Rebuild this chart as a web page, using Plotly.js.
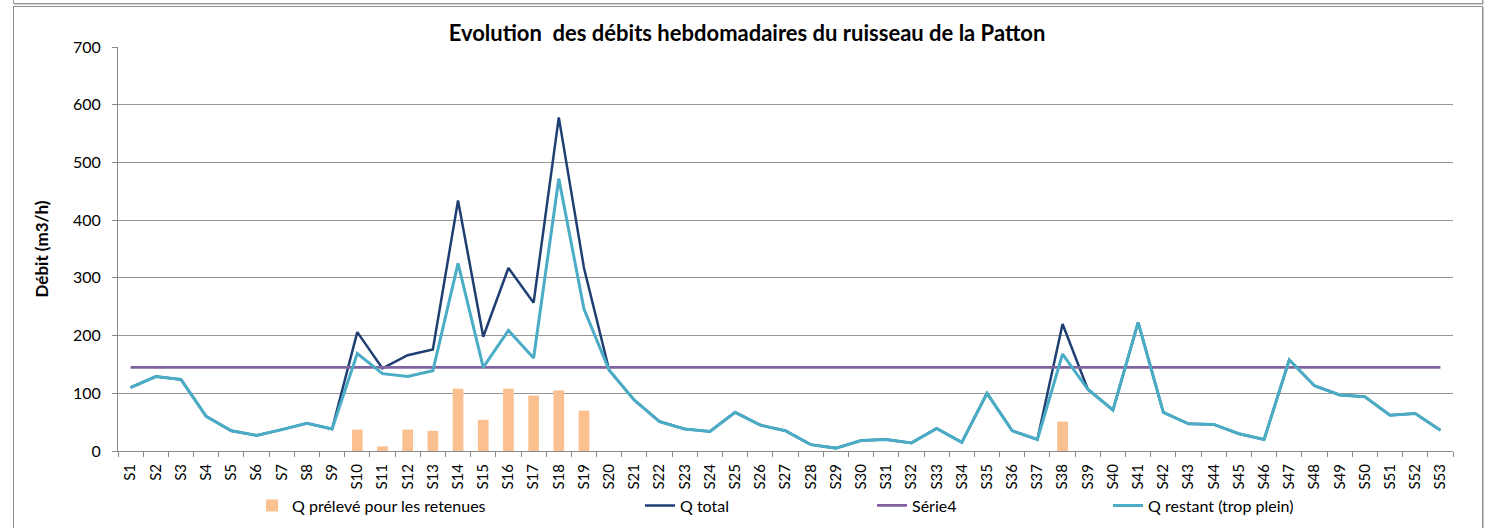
<!DOCTYPE html>
<html>
<head>
<meta charset="utf-8">
<script src="https://cdn.plot.ly/plotly-3.0.1.min.js"></script>
<style>
  html, body { margin: 0; padding: 0; background: #ffffff; overflow: hidden; }
  #wrap { position: relative; width: 1494px; height: 528px; }
  #topbox { position: absolute; left: 13px; top: -10px; width: 1468px; height: 12px; border: 1px solid #9a9a9a; box-shadow: 1px 1px 0 #d0d0d0; }
  #chartbox { position: absolute; left: 13px; top: 6px; width: 1468px; height: 600px; border: 1px solid #8e8e8e; box-shadow: 1px 1px 0 #c8c8c8; }
  #chart { position: absolute; left: 0; top: 0; width: 1494px; height: 528px; }
</style>
</head>
<body>
<div id="wrap">
  <div id="topbox"></div>
  <div id="chartbox"></div>
  <div id="chart"></div>
</div>
<script>
// ---- data ----
const weeks = ["S1","S2","S3","S4","S5","S6","S7","S8","S9","S10",
  "S11","S12","S13","S14","S15","S16","S17","S18","S19","S20",
  "S21","S22","S23","S24","S25","S26","S27","S28","S29","S30",
  "S31","S32","S33","S34","S35","S36","S37","S38","S39","S40",
  "S41","S42","S43","S44","S45","S46","S47","S48","S49","S50",
  "S51","S52","S53"];

const qPreleve = [null,null,null,null,null,null,null,null,null,37,
  8,37,35,108,54,108,96,105,70,null,
  null,null,null,null,null,null,null,null,null,null,
  null,null,null,null,null,null,null,51,null,null,
  null,null,null,null,null,null,null,null,null,null,
  null,null,null];

const qTotal = [110,129,124,60,35,27,37,48,38,206,
  143,166,176,434,198,317,257,578,317,140,
  88,51,38,34,67,45,35,11,5,18,
  20,14,39,15,100,35,20,220,107,71,
  223,67,47,46,30,20,158,113,97,94,
  62,65,36];

const serie4 = [145,145,145,145,145,145,145,145,145,145,
  145,145,145,145,145,145,145,145,145,145,
  145,145,145,145,145,145,145,145,145,145,
  145,145,145,145,145,145,145,145,145,145,
  145,145,145,145,145,145,145,145,145,145,
  145,145,145];

const qRestant = [110,129,124,60,35,27,37,48,38,169,
  134,129,139,325,145,209,161,472,246,140,
  88,51,38,34,67,45,35,11,5,18,
  20,14,39,15,100,35,20,168,107,71,
  223,67,47,46,30,20,158,113,97,94,
  62,65,36];

const FONT = "Lato, 'Open Sans', sans-serif";

const traces = [
  { type: "bar", x: weeks, y: qPreleve, name: "Q prélevé pour les retenues",
    marker: { color: "#FAC090" }, legend: "legend", hoverinfo: "x+y" },
  { type: "scatter", mode: "lines", x: weeks, y: qTotal, name: "Q total",
    line: { color: "#1F3F73", width: 2.5 }, legend: "legend2" },
  { type: "scatter", mode: "lines", x: weeks, y: serie4, name: "Série4",
    line: { color: "#7F62A0", width: 2.75 }, legend: "legend3" },
  { type: "scatter", mode: "lines", x: weeks, y: qRestant, name: "Q restant (trop plein)",
    line: { color: "#4BACC6", width: 3 }, legend: "legend4" }
];

function leg(x) {
  return { orientation: "h", x: x, xanchor: "left", y: -0.135, yanchor: "middle",
    bgcolor: "rgba(0,0,0,0)", borderwidth: 0,
    font: { family: FONT, size: 16, color: "#000000" } };
}

const layout = {
  width: 1494, height: 528,
  paper_bgcolor: "rgba(0,0,0,0)",
  plot_bgcolor: "rgba(0,0,0,0)",
  margin: { l: 118, r: 41, t: 47, b: 77, autoexpand: false },
  title: { text: "<b>Evolution  des débits hebdomadaires du ruisseau de la Patton</b>",
    font: { family: FONT, size: 22, color: "#000000" },
    x: 0.5, xanchor: "center", y: 0.937, yanchor: "middle" },
  bargap: 0.575,
  showlegend: true,
  xaxis: {
    type: "category", categoryorder: "array", categoryarray: weeks,
    range: [-0.5, 52.5], automargin: false,
    showgrid: false, zeroline: false,
    showline: true, linecolor: "#8a8a8a", linewidth: 1,
    ticks: "outside", tickson: "boundaries", ticklen: 5, tickcolor: "#8a8a8a",
    tickangle: -90, ticklabelstandoff: 6,
    tickfont: { family: FONT, size: 15, color: "#000000" }
  },
  yaxis: {
    range: [0, 700], dtick: 100, automargin: false,
    showgrid: true, gridcolor: "#969696", gridwidth: 1,
    zeroline: false,
    showline: true, linecolor: "#8a8a8a", linewidth: 1,
    ticks: "outside", ticklen: 5, tickcolor: "#8a8a8a",
    ticklabelstandoff: 8,
    tickfont: { family: FONT, size: 16, color: "#000000" },
    title: { text: "<b>Débit (m3/h)</b>", font: { family: FONT, size: 17, color: "#000000" }, standoff: 20 }
  },
  legend: leg(0.1004),
  legend2: leg(0.3910),
  legend3: leg(0.5648),
  legend4: leg(0.7416)
};

Plotly.newPlot("chart", traces, layout, { displayModeBar: false, staticPlot: true });
</script>
</body>
</html>
